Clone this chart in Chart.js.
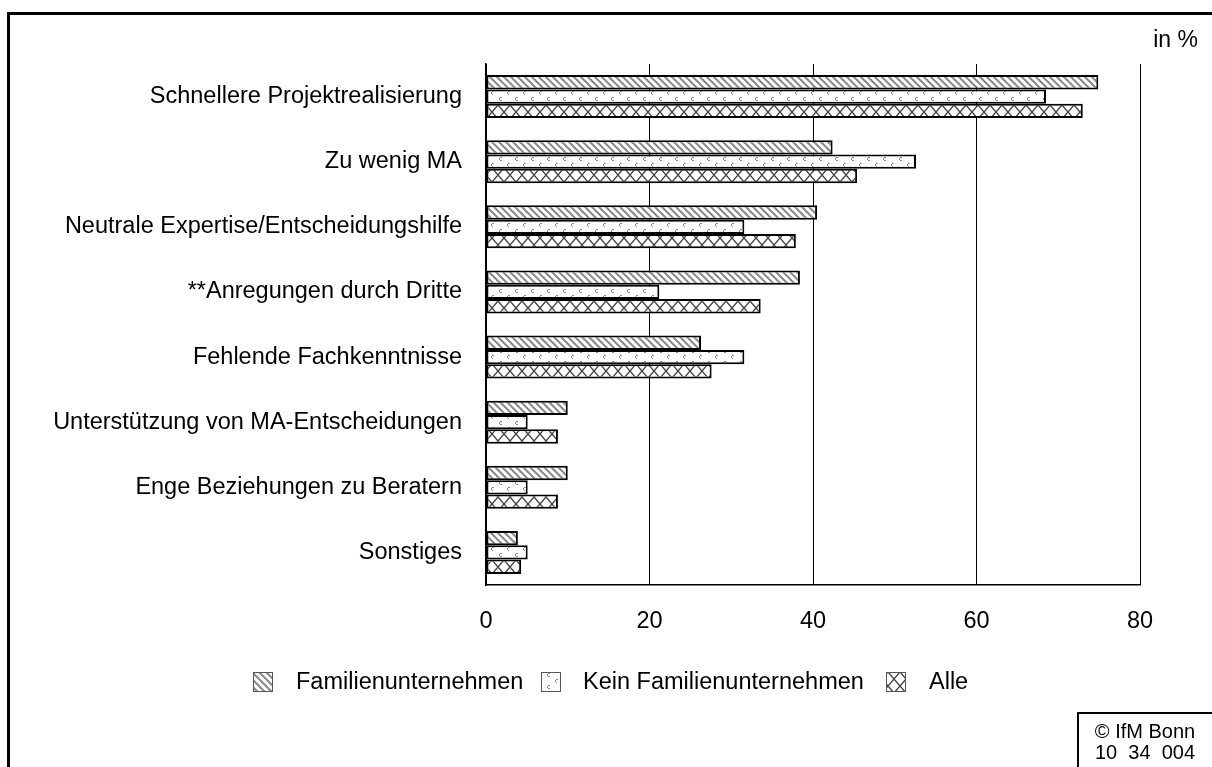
<!DOCTYPE html>
<html>
<head>
<meta charset="utf-8">
<script src="https://cdn.jsdelivr.net/npm/chart.js@4/dist/chart.umd.min.js"></script>
<style>
html,body{margin:0;padding:0;background:#fff;}
#wrap{position:relative;width:1212px;height:767px;}
</style>
</head>
<body>
<div id="wrap"><canvas id="c" width="1212" height="767"></canvas></div>
<script>
const categories = [
  "Schnellere Projektrealisierung",
  "Zu wenig MA",
  "Neutrale Expertise/Entscheidungshilfe",
  "**Anregungen durch Dritte",
  "Fehlende Fachkenntnisse",
  "Unterstützung von MA-Entscheidungen",
  "Enge Beziehungen zu Beratern",
  "Sonstiges"
];
const seriesNames = ["Familienunternehmen", "Kein Familienunternehmen", "Alle"];
const familienunternehmen = [74.9, 42.4, 40.5, 38.4, 26.3, 10.0, 10.0, 3.9];
const keinFamilienunternehmen = [68.5, 52.6, 31.6, 21.2, 31.6, 5.1, 5.1, 5.1];
const alle = [73.0, 45.4, 37.9, 33.6, 27.6, 8.8, 8.8, 4.3];
const xTicks = [0, 20, 40, 60, 80];
const unitLabel = "in %";
const creditLines = ["© IfM Bonn", "10  34  004"];

function makePattern(kind){
  const t = document.createElement('canvas');
  const ctx = t.getContext('2d');
  if(kind === 0){
    t.width = 7; t.height = 7;
    ctx.fillStyle = '#fff'; ctx.fillRect(0,0,7,7);
    ctx.strokeStyle = '#8a8a8a'; ctx.lineWidth = 2;
    ctx.beginPath();
    ctx.moveTo(-7,-7); ctx.lineTo(14,14);
    ctx.moveTo(-7,0); ctx.lineTo(7,14);
    ctx.moveTo(0,-7); ctx.lineTo(14,7);
    ctx.stroke();
  } else if(kind === 1){
    t.width = 16; t.height = 12;
    ctx.fillStyle = '#fff'; ctx.fillRect(0,0,16,12);
    ctx.fillStyle = '#8a8a8a';
    ctx.fillRect(4,1,2,1); ctx.fillRect(3,2,1,2); ctx.fillRect(4,4,2,1);
    ctx.fillRect(12,7,2,1); ctx.fillRect(11,8,1,2); ctx.fillRect(12,10,1,1);
  } else {
    t.width = 12; t.height = 14;
    ctx.fillStyle = '#fff'; ctx.fillRect(0,0,12,14);
    ctx.strokeStyle = '#444'; ctx.lineWidth = 1.4;
    ctx.beginPath();
    ctx.moveTo(0,0); ctx.lineTo(12,14);
    ctx.moveTo(12,0); ctx.lineTo(0,14);
    ctx.stroke();
  }
  return document.getElementById('c').getContext('2d').createPattern(t,'repeat');
}
const patterns = [makePattern(0), makePattern(1), makePattern(2)];
const FONT = "'Liberation Sans', Arial, sans-serif";
const FS = 23.5;

const framePlugin = {
  id: 'frame',
  beforeDraw(chart){
    const ctx = chart.ctx;
    ctx.save();
    ctx.fillStyle = '#fff';
    ctx.fillRect(0,0,chart.width,chart.height);
    ctx.restore();
  },
  afterDraw(chart){
    const ctx = chart.ctx;
    ctx.save();
    ctx.strokeStyle = '#000'; ctx.lineWidth = 3;
    ctx.beginPath();
    ctx.moveTo(8.5, 767); ctx.lineTo(8.5, 13.5); ctx.lineTo(1212, 13.5);
    ctx.stroke();
    ctx.fillStyle = '#000';
    ctx.font = "23px " + FONT;
    ctx.textAlign = 'right'; ctx.textBaseline = 'middle';
    ctx.fillText(unitLabel, 1198, 41);
    const items = [{x:253, tx:296},{x:541, tx:583},{x:886, tx:929}];
    items.forEach((it, i) => {
      ctx.fillStyle = patterns[i];
      ctx.fillRect(it.x, 672, 20, 20);
      ctx.strokeStyle = '#555'; ctx.lineWidth = 1;
      ctx.strokeRect(it.x+0.5, 672.5, 19, 19);
      ctx.fillStyle = '#000';
      ctx.font = FS + "px " + FONT;
      ctx.textAlign = 'left'; ctx.textBaseline = 'middle';
      ctx.fillText(chart.data.datasets[i].label, it.tx, 683);
    });
    ctx.strokeStyle = '#000'; ctx.lineWidth = 2;
    ctx.beginPath();
    ctx.moveTo(1078, 767); ctx.lineTo(1078, 713); ctx.lineTo(1212, 713);
    ctx.stroke();
    ctx.fillStyle = '#000';
    ctx.font = "20px " + FONT;
    ctx.textAlign = 'center'; ctx.textBaseline = 'middle';
    ctx.fillText(creditLines[0], 1145, 732);
    ctx.fillText(creditLines[1], 1145, 753);
    ctx.restore();
  }
};

new Chart(document.getElementById('c'), {
  type: 'bar',
  data: {
    labels: categories,
    datasets: [
      {label: seriesNames[0], data: familienunternehmen, backgroundColor: patterns[0]},
      {label: seriesNames[1], data: keinFamilienunternehmen, backgroundColor: patterns[1]},
      {label: seriesNames[2], data: alle, backgroundColor: patterns[2]}
    ].map(d => Object.assign(d, {borderColor:'#000', borderWidth:2, borderSkipped:false, categoryPercentage:0.66, barPercentage:1.0}))
  },
  options: {
    indexAxis: 'y',
    responsive: false,
    animation: false,
    devicePixelRatio: 1,
    layout: {padding: {top: 64, right: 72, left: 0, bottom: 0}},
    plugins: {legend: {display:false}, tooltip: {enabled:false}},
    scales: {
      x: {
        min: 0, max: 80,
        afterBuildTicks(s){ s.ticks = xTicks.map(v => ({value:v})); },
        afterFit(s){ s.height = 182; },
        grid: {color:'#000', lineWidth:1, drawTicks:false},
        border: {display:true, color:'#000', width:1.5},
        ticks: {color:'#000', font:{family:FONT, size:FS}, padding:22, maxRotation:0}
      },
      y: {
        afterFit(s){ s.width = 486; },
        grid: {display:false, drawTicks:false},
        border: {display:true, color:'#000', width:1.5},
        ticks: {color:'#000', font:{family:FONT, size:FS}, padding:24}
      }
    }
  },
  plugins: [framePlugin]
});
</script>
</body>
</html>
